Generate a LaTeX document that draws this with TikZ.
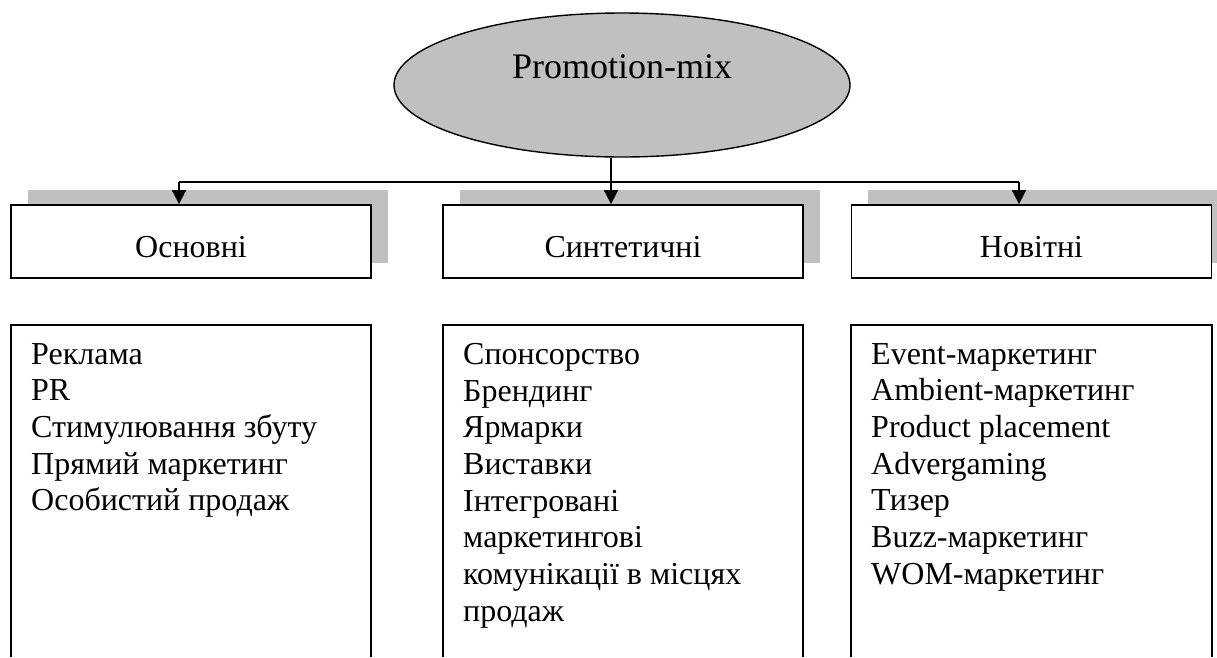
\documentclass[tikz,border=0pt]{standalone}
\usepackage{fontspec}
\setmainfont{Liberation Serif}
\usetikzlibrary{arrows.meta,shadows,shapes.geometric}
\definecolor{shgray}{HTML}{C0C0C0}
\begin{document}
\begin{tikzpicture}[x=1pt,y=-1pt,
  conn/.style={line width=1.8pt},
  arr/.style={line width=1.8pt,-{Triangle[width=14pt,length=14pt]}},
  headbox/.style={draw,line width=1.8pt,fill=white,minimum width=360pt,minimum height=73pt,inner sep=0pt,
    general shadow={fill=shgray,shadow xshift=16.5pt,shadow yshift=15pt}},
  headtext/.style={anchor=base,inner sep=0pt,font=\fontsize{32}{36.7}\selectfont},
  listbox/.style={line width=1.6pt},
  listtext/.style={anchor=north west,align=left,inner sep=0pt,font=\fontsize{32}{36.7}\selectfont},
  topell/.style={ellipse,draw,line width=1.4pt,fill=shgray,minimum width=456pt,minimum height=144pt,inner sep=0pt}
]
\useasboundingbox (0,0) rectangle (1217,657);
\node[topell] (pm) at (622,85) {};
\node[anchor=base,inner sep=0pt,font=\fontsize{36}{40}\selectfont] (pmt) at (622,78) {Promotion-mix};
\node[headbox] (h1) at (191,241.5) {};
\node[headbox] (h2) at (623,241.5) {};
\node[headbox] (h3) at (1031.5,241.5) {};
\node[headtext] (h1t) at (191,257) {Основні};
\node[headtext] (h2t) at (623,257) {Синтетичні};
\node[headtext] (h3t) at (1031.5,257) {Новітні};
\coordinate (j1) at (179,182);
\coordinate (j3) at (1019,182);
\draw[arr] (pm.south -| 611,0) -- (h2.north -| 611,0);
\draw[conn] (j1) -- (j3);
\draw[arr] (j1) -- (h1.north -| j1);
\draw[arr] (j3) -- (h3.north -| j3);
% list boxes (open at the bottom)
\draw[listbox] (11,657) -- (11,325) -- (371,325) -- (371,657);
\draw[listbox] (443,657) -- (443,325) -- (803,325) -- (803,657);
\draw[listbox] (851,657) -- (851,325) -- (1212,325) -- (1212,657);
\node[listtext] (l1) at (31,343) {Реклама\\PR\\Стимулювання збуту\\Прямий маркетинг\\Особистий продаж};
\node[listtext] (l2) at (463,343) {Спонсорство\\Брендинг\\Ярмарки\\Виставки\\Інтегровані\\маркетингові\\комунікації в місцях\\продаж};
\node[listtext] (l3) at (871,343) {Event-маркетинг\\Ambient-маркетинг\\Product placement\\Advergaming\\Тизер\\Buzz-маркетинг\\WOM-маркетинг};
\end{tikzpicture}
\end{document}
